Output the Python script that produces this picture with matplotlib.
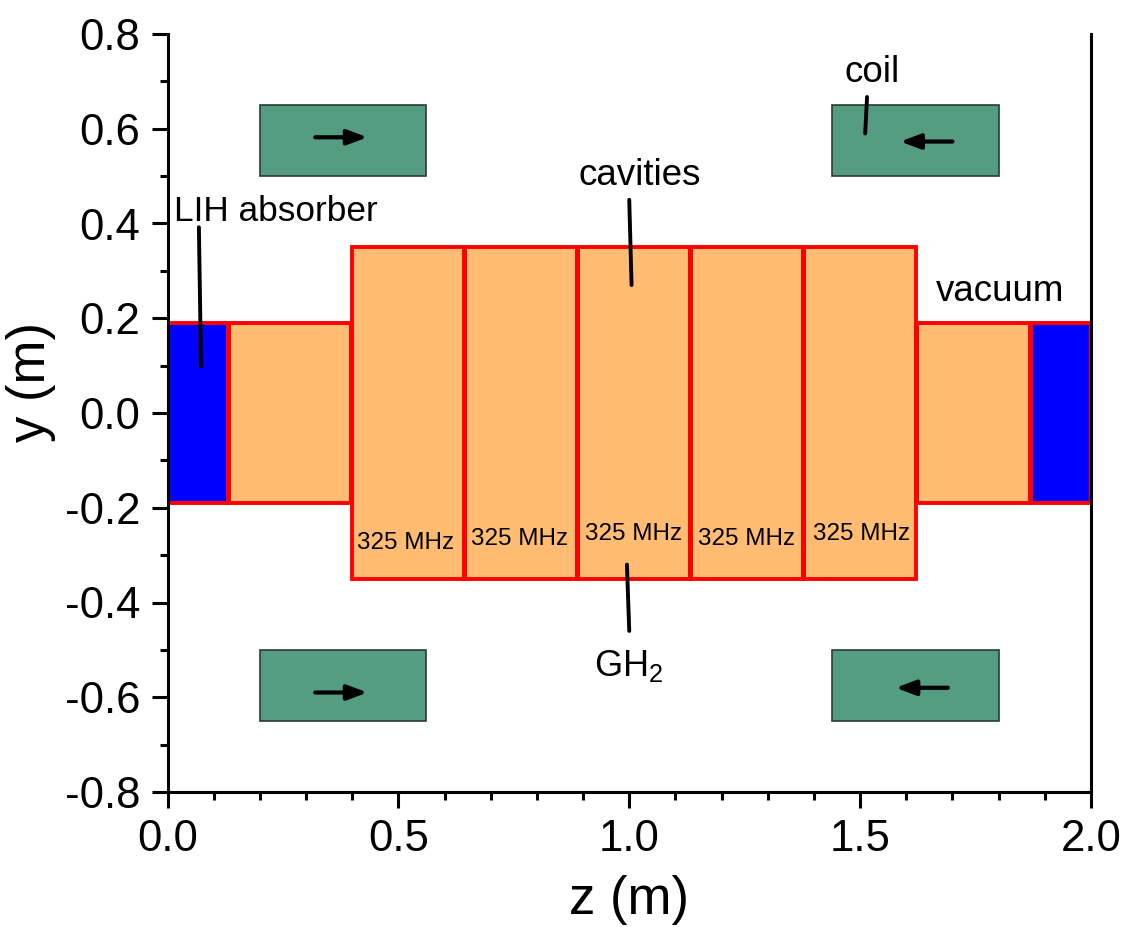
import matplotlib
matplotlib.use('Agg')
import matplotlib.pyplot as plt
from matplotlib.patches import Rectangle
from matplotlib.ticker import MultipleLocator

# z start, z end, half height
absorbers = [(0.0, 0.132, 0.19), (1.867, 2.0, 0.19)]
sections = [(0.132, 0.397, 0.19), (1.622, 1.867, 0.19)]
cavity_edges = [0.4, 0.642, 0.887, 1.132, 1.376, 1.62]
cavity_half = 0.35
# walls between neighbouring volumes, drawn heavier than the outline
inner_walls = [0.642, 0.887, 1.132, 1.376]
short_walls = [0.132, 0.397, 1.622, 1.867]
# z start, z end, y low, y high
coils = [(0.2, 0.56, 0.5, 0.65), (1.44, 1.8, 0.5, 0.65),
         (0.2, 0.56, -0.65, -0.5), (1.44, 1.8, -0.65, -0.5)]
# tail and head of the current arrows
arrows = [((0.32, 0.582), (0.433, 0.582)), ((1.70, 0.573), (1.587, 0.573)),
          ((0.32, -0.59), (0.433, -0.59)), ((1.69, -0.58), (1.577, -0.58))]
# leader lines
leaders = [((0.068, 0.392), (0.0726, 0.099)), ((1.515, 0.667), (1.511, 0.59)),
           ((1.0, 0.45), (1.005, 0.27)), ((1.0, -0.46), (0.995, -0.32))]
freq_label = '325 MHz'
freq_z = [0.516, 0.762, 1.01, 1.254, 1.503]
freq_y = [-0.275, -0.265, -0.255, -0.265, -0.255]

plt.rcParams['font.family'] = ['Liberation Sans', 'DejaVu Sans']
plt.rcParams['mathtext.fontset'] = 'custom'
plt.rcParams['mathtext.rm'] = 'Liberation Sans'
plt.rcParams['axes.unicode_minus'] = False

fig = plt.figure(figsize=(11.44, 9.27), dpi=100)
ax = fig.add_axes([167.5 / 1144, 1 - 792 / 927, 923.5 / 1144, 758 / 927])

red = '#ff0000'
orange = '#ffbc72'
for z0, z1, h in absorbers:
    ax.add_patch(Rectangle((z0, -h), z1 - z0, 2 * h, fc='#0000ff', ec=red, lw=2.8, zorder=2))
for z0, z1, h in sections:
    ax.add_patch(Rectangle((z0, -h), z1 - z0, 2 * h, fc=orange, ec=red, lw=2.8, zorder=2))
for i in range(len(cavity_edges) - 1):
    z0, z1 = cavity_edges[i], cavity_edges[i + 1]
    ax.add_patch(Rectangle((z0, -cavity_half), z1 - z0, 2 * cavity_half, fc=orange, ec=red, lw=2.8, zorder=3))
    ax.text(freq_z[i], freq_y[i], freq_label, fontsize=17.5, ha='center', va='center', zorder=5)
ax.vlines(inner_walls, -cavity_half, cavity_half, color=red, lw=3.6, zorder=4)
ax.vlines(short_walls, -0.19, 0.19, color=red, lw=3.6, zorder=4)
for z0, z1, y0, y1 in coils:
    ax.add_patch(Rectangle((z0, y0), z1 - z0, y1 - y0, fc='#559d82', ec='#2b3b35', lw=1.2, zorder=2))

for tail, head in arrows:
    ax.annotate('', xy=head, xytext=tail, zorder=6,
                arrowprops=dict(arrowstyle='-|>,head_length=1.2,head_width=0.45', color='black', lw=3,
                                shrinkA=0, shrinkB=0))
for start, end in leaders:
    ax.plot([start[0], end[0]], [start[1], end[1]], color='black', lw=2.8, solid_capstyle='round', zorder=6)

ax.text(0.015, 0.425, 'LIH absorber', fontsize=25.4, va='center', ha='left')
ax.text(1.527, 0.718, 'coil', fontsize=26.5, va='center', ha='center')
ax.text(1.022, 0.501, 'cavities', fontsize=26.5, va='center', ha='center')
ax.text(1.804, 0.256, 'vacuum', fontsize=26.5, va='center', ha='center')
ax.text(0.998, -0.496, 'GH$_2$', fontsize=26, va='top', ha='center')

ax.set_xlim(0, 2)
ax.set_ylim(-0.8, 0.8)
ax.xaxis.set_major_locator(MultipleLocator(0.5))
ax.xaxis.set_minor_locator(MultipleLocator(0.1))
ax.yaxis.set_major_locator(MultipleLocator(0.2))
ax.yaxis.set_minor_locator(MultipleLocator(0.1))
ax.tick_params(which='major', length=11.5, width=2.2, labelsize=31.5, pad=8)
ax.tick_params(which='minor', length=6, width=2.2)
ax.spines['top'].set_visible(False)
for s in ['left', 'bottom', 'right']:
    ax.spines[s].set_linewidth(2.2)
ax.set_xlabel('z (m)', fontsize=38)
ax.set_ylabel('y (m)', fontsize=38)
ax.xaxis.set_label_coords(0.4997, -0.109)
ax.yaxis.set_label_coords(-0.121, 0.541)

fig.savefig('out.png', dpi=100)
